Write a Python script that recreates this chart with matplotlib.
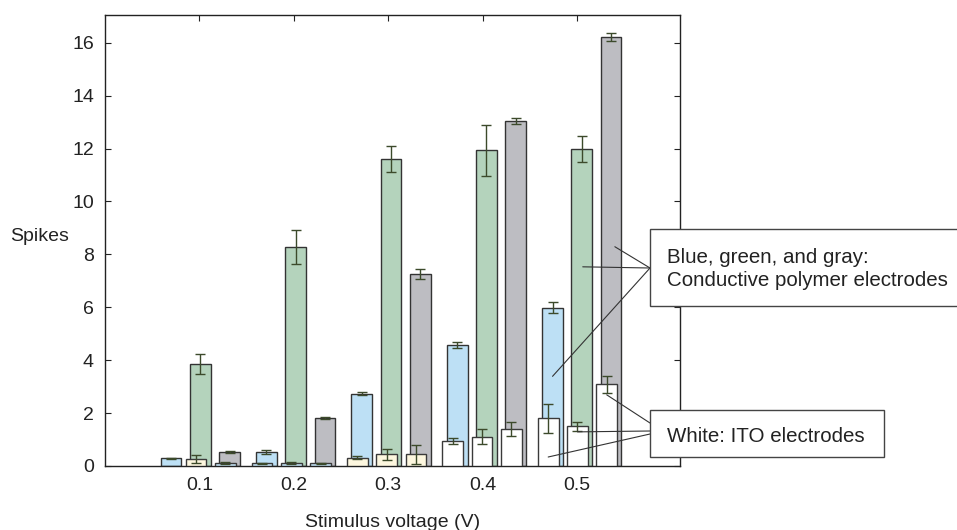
import matplotlib.pyplot as plt
import numpy as np

# stimulus voltages (V)
volts = [0.1, 0.2, 0.3, 0.4, 0.5]

# conductive polymer electrodes (blue, green, gray)
blue = [0.29, 0.52, 2.73, 4.57, 5.99]
blue_err = [0.03, 0.07, 0.06, 0.12, 0.2]
green = [3.85, 8.28, 11.6, 11.93, 11.99]
green_err = [0.37, 0.66, 0.5, 0.95, 0.5]
gray = [0.53, 1.82, 7.26, 13.04, 16.22]
gray_err = [0.04, 0.05, 0.2, 0.12, 0.15]

# ITO electrodes, one bar in front of each polymer bar
ito_blue = [0.0, 0.1, 0.32, 0.95, 1.81]
ito_blue_err = [0.0, 0.03, 0.07, 0.1, 0.55]
ito_green = [0.25, 0.13, 0.44, 1.11, 1.5]
ito_green_err = [0.15, 0.04, 0.2, 0.27, 0.17]
ito_gray = [0.12, 0.1, 0.44, 1.41, 3.09]
ito_gray_err = [0.03, 0.03, 0.37, 0.26, 0.32]

plt.rcParams['font.family'] = ['Liberation Sans', 'DejaVu Sans']
plt.rcParams['font.size'] = 14

BLUE, GREEN, GRAY = '#bde0f5', '#b4d3bc', '#bdbdc2'
CREAM, PALE, WHITE = '#fdf7df', '#c4e2f5', '#ffffff'
ERR = '#3c4a2b'
ito_colors = [[WHITE, CREAM, PALE],
              [PALE, PALE, PALE],
              [CREAM, CREAM, CREAM],
              [WHITE, WHITE, WHITE],
              [WHITE, WHITE, WHITE]]

fig = plt.figure(figsize=(9.57, 5.30), dpi=100)
ax = fig.add_axes([105 / 957, 64 / 530, 575 / 957, 451 / 530])

x = np.array(volts) * 1.01
w = 0.022
step = 0.031
shift = -0.0046

poly = [(blue, blue_err, BLUE), (green, green_err, GREEN), (gray, gray_err, GRAY)]
ito = [(ito_blue, ito_blue_err), (ito_green, ito_green_err), (ito_gray, ito_gray_err)]

for k, (vals, errs, col) in enumerate(poly):
    pos = x + (k - 1) * step
    ax.bar(pos, vals, w, color=col, edgecolor='#333333', linewidth=1, zorder=2)
    ax.errorbar(pos, vals, yerr=errs, fmt='none', ecolor=ERR, elinewidth=1,
                capsize=3.5, capthick=1, zorder=3)

for k, (vals, errs) in enumerate(ito):
    pos = x + (k - 1) * step + shift
    vals = np.array(vals)
    m = vals > 0
    cols = [ito_colors[i][k] for i in range(len(volts)) if m[i]]
    ax.bar(pos[m], vals[m], w, color=cols, edgecolor='#3a3a3a', linewidth=1, zorder=4)
    ax.errorbar(pos[m], vals[m], yerr=np.array(errs)[m], fmt='none', ecolor=ERR,
                elinewidth=1, capsize=3.5, capthick=1, zorder=5)

ax.set_xlim(0, 0.609)
ax.set_ylim(0, 17.05)
ax.set_xticks(volts)
ax.set_xticklabels([f'{v:.1f}' for v in volts])
ax.set_yticks(np.arange(0, 17, 2))
ax.tick_params(direction='in', length=4, width=0.8, top=True, right=True,
               colors='#222222', labelcolor='#222222', pad=8)
for s in ax.spines.values():
    s.set_linewidth(1)
    s.set_color('#222222')

ax.set_xlabel('Stimulus voltage (V)', labelpad=14, color='#222222')
ax.set_ylabel('Spikes', rotation=0, color='#222222')
ax.yaxis.set_label_coords(-0.113, 0.49)

# callout boxes in figure pixels
box1 = plt.Rectangle((650, 224), 310, 77, transform=None, facecolor='white',
                     edgecolor='#444444', linewidth=1, zorder=10, clip_on=False)
box2 = plt.Rectangle((650, 73), 234, 47, transform=None, facecolor='white',
                     edgecolor='#444444', linewidth=1, zorder=10, clip_on=False)
fig.add_artist(box1)
fig.add_artist(box2)
fig.text(667 / 957, 1 - 269 / 530, 'Blue, green, and gray:\nConductive polymer electrodes',
         va='center', ha='left', color='#222222', fontsize=14.8, linespacing=1.25, zorder=11)
fig.text(667 / 957, 1 - 437 / 530, 'White: ITO electrodes',
         va='center', ha='left', color='#222222', fontsize=14.8, zorder=11)

# leader lines: (bar x, y in data) -> box edge in figure pixels
leaders = [((x[4] + step + 0.004, 8.29), (650, 262)),
           ((x[4] + 0.001, 7.53), (650, 262)),
           ((x[4] - step + 0.0, 3.39), (650, 262)),
           ((x[4] + step + shift + 0.0, 2.69), (650, 107)),
           ((x[4] + shift - 0.0, 1.29), (650, 99)),
           ((x[4] - step + shift, 0.34), (650, 96))]
for xy, xyt in leaders:
    ax.annotate('', xy=xy, xycoords='data', xytext=xyt, textcoords='figure pixels',
                arrowprops=dict(arrowstyle='-', color='#333333', lw=0.8,
                                shrinkA=0, shrinkB=0), zorder=9, annotation_clip=False)

fig.savefig('out.png', dpi=100)
